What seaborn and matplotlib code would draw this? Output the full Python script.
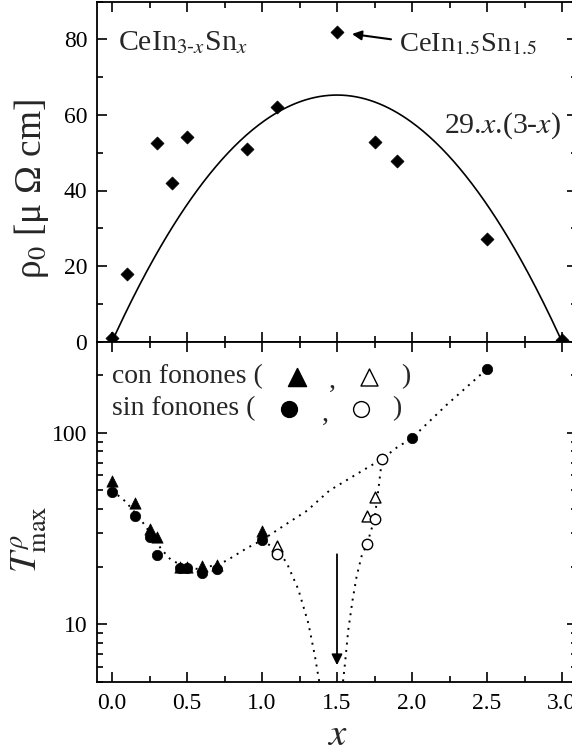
import numpy as np
import matplotlib
matplotlib.use("Agg")
import matplotlib.pyplot as plt
import seaborn as sns
from matplotlib.ticker import MultipleLocator, LogLocator, FuncFormatter, NullFormatter

# Residual resistivity of CeIn(3-x)Sn(x)
rho_x = [0.0, 0.1, 0.3, 0.4, 0.5, 0.9, 1.1, 1.5, 1.75, 1.9, 2.5, 3.0]
rho_0 = [1.0, 18.0, 52.6, 42.0, 54.2, 51.0, 62.2, 81.8, 52.7, 47.9, 27.3, 0.5]
fit_coef = 29.0

# Temperature of the resistivity maximum, with phonon contribution
con_x = [0.0, 0.15, 0.25, 0.3, 0.45, 0.5, 0.6, 0.7, 1.0]
con_T = [56.3, 43.0, 31.6, 28.4, 19.9, 20.0, 20.1, 20.4, 30.7]
con_open_x = [1.1, 1.7, 1.75]
con_open_T = [25.6, 36.9, 46.1]

# ... and without phonon contribution
sin_x = [0.0, 0.15, 0.25, 0.3, 0.45, 0.5, 0.6, 0.7, 1.0, 2.0, 2.5]
sin_T = [48.9, 36.6, 28.4, 22.9, 19.7, 19.7, 18.6, 19.5, 27.5, 94.0, 216.0]
sin_open_x = [1.1, 1.7, 1.75, 1.8]
sin_open_T = [23.2, 26.2, 35.4, 73.0]

# Guide-to-the-eye curves
guide_low_x = [0.0, 0.09, 0.19, 0.33, 0.39, 0.5, 0.6, 0.76, 0.9, 1.0]
guide_low_T = [50.0, 43.8, 35.4, 24.6, 21.8, 19.6, 19.4, 21.4, 25.0, 27.5]
guide_up_x = [1.0, 1.16, 1.3, 1.45, 1.69, 1.8, 1.9, 2.0, 2.23, 2.5]
guide_up_T = [27.5, 33.3, 39.2, 50.0, 64.9, 73.0, 84.0, 94.0, 140.0, 216.0]
guide_down_x = [1.0, 1.1, 1.164, 1.242, 1.309, 1.353, 1.376, 1.39]
guide_down_T = [27.5, 24.4, 21.0, 15.2, 10.1, 6.8, 5.3, 4.6]
guide_rise_x = [1.535, 1.553, 1.575, 1.604, 1.631, 1.664, 1.7, 1.75, 1.775, 1.8]
guide_rise_T = [4.6, 6.2, 9.3, 13.4, 17.8, 22.7, 26.2, 35.4, 50.0, 73.0]

x_ticks = [0.0, 0.5, 1.0, 1.5, 2.0, 2.5, 3.0]
x_ticklabels = ["0.0", "0.5", "1.0", "1.5", "2.0", "2.5", "3.0"]
rho_ticks = [0, 20, 40, 60, 80]

sns.set_style("ticks")
plt.rcParams["font.family"] = ["Liberation Serif", "DejaVu Serif"]
plt.rcParams["mathtext.fontset"] = "stix"
plt.rcParams["axes.linewidth"] = 1.3

W, H = 572, 756
fig = plt.figure(figsize=(W / 100, H / 100), dpi=100)
left, width = 97 / W, 480 / W
ax1 = fig.add_axes([left, (H - 341.7) / H, width, 340.2 / H])
ax2 = fig.add_axes([left, (H - 681.7) / H, width, 340.0 / H])

for ax in (ax1, ax2):
    ax.tick_params(which="both", direction="in", top=True, right=True,
                   width=1.2, labelsize=17, colors="black")
    ax.tick_params(which="major", length=7.5)
    ax.tick_params(which="minor", length=4)
    ax.tick_params(axis="y", which="major", pad=7)
    ax.tick_params(axis="x", which="major", pad=8)
    ax.set_xlim(-0.1, 3.1)
    ax.xaxis.set_major_locator(MultipleLocator(0.5))
    ax.xaxis.set_minor_locator(MultipleLocator(0.25))
    for s in ax.spines.values():
        s.set_linewidth(1.3)
        s.set_color("black")

# ---- upper panel: rho_0 ----
ax1.set_ylim(0, 90)
ax1.set_yticks(rho_ticks)
ax1.yaxis.set_minor_locator(MultipleLocator(10))
ax1.tick_params(axis="x", labelbottom=False)

xf = np.linspace(-0.02, 3.02, 300)
sns.lineplot(x=xf, y=fit_coef * xf * (3 - xf), ax=ax1, color="black",
             lw=1.2, clip_on=False, sort=False, estimator=None)
sns.scatterplot(x=rho_x, y=rho_0, ax=ax1, marker="D", s=44, color="black",
                edgecolor="black", linewidth=0.5, zorder=5)

ax1.set_ylabel("ρ$_0$ [μ Ω cm]", fontsize=27)
ax1.yaxis.set_label_coords(-0.095, 0.45)

ax1.text(0.04, 77.2, r"CeIn$_{3\text{-}x}$Sn$_{x}$", fontsize=21.5,
         ha="left", va="baseline")
ax1.text(1.913, 76.7, r"CeIn$_{1.5}$Sn$_{1.5}$", fontsize=20.5,
         ha="left", va="baseline")
ax1.annotate("", xy=(1.6, 81.4), xytext=(1.86, 80.0),
             arrowprops=dict(arrowstyle="-|>", color="black", lw=1.5,
                             mutation_scale=14, shrinkA=0, shrinkB=0))
ax1.text(2.99, 55.2, r"29.$x$.(3-$x$)", fontsize=21.5, ha="right",
         va="baseline")

# ---- lower panel: T_max ----
ax2.set_yscale("log")
ax2.set_ylim(5, 300)
ax2.yaxis.set_major_locator(LogLocator(base=10, numticks=10))
ax2.yaxis.set_minor_locator(LogLocator(base=10, subs=np.arange(2, 10), numticks=20))
ax2.yaxis.set_major_formatter(FuncFormatter(lambda v, p: f"{v:g}"))
ax2.yaxis.set_minor_formatter(NullFormatter())
ax2.set_xticks(x_ticks)
ax2.set_xticklabels(x_ticklabels)

dot = dict(color="black", lw=1.4, linestyle=(0, (1, 2.8)), sort=False,
           estimator=None, ax=ax2)
for gx, gy in ((guide_low_x, guide_low_T), (guide_up_x, guide_up_T),
               (guide_down_x, guide_down_T), (guide_rise_x, guide_rise_T)):
    sns.lineplot(x=gx, y=gy, **dot)

sns.scatterplot(x=con_open_x, y=con_open_T, ax=ax2, marker="^", s=62,
                color="white", edgecolor="black", linewidth=1.0, zorder=4)
sns.scatterplot(x=sin_open_x, y=sin_open_T, ax=ax2, marker="o", s=56,
                color="white", edgecolor="black", linewidth=1.0, zorder=4)
sns.scatterplot(x=con_x, y=con_T, ax=ax2, marker="^", s=66, color="black",
                edgecolor="black", linewidth=0.5, zorder=5)
sns.scatterplot(x=sin_x, y=sin_T, ax=ax2, marker="o", s=56, color="black",
                edgecolor="black", linewidth=0.5, zorder=5)

ax2.annotate("", xy=(1.5, 6.1), xytext=(1.5, 23.2),
             arrowprops=dict(arrowstyle="-|>", color="black", lw=1.3,
                             mutation_scale=16, shrinkA=0, shrinkB=0))

ax2.set_ylabel(r"$T^{\rho}_{\mathrm{max}}$", fontsize=27)
ax2.yaxis.set_label_coords(-0.1, 0.42)
ax2.set_xlabel(r"$x$", fontsize=28)
ax2.xaxis.label.set_va("center")
ax2.xaxis.set_label_coords(0.5, -0.157)

# legend rows
ta = ax2.transAxes
ax2.text(0.031, 0.897, "con fonones (", transform=ta, fontsize=20,
         ha="left", va="center")
ax2.text(0.031, 0.802, "sin fonones (", transform=ta, fontsize=20,
         ha="left", va="center")
ax2.scatter([0.416], [0.897], transform=ta, marker="^", s=170, c="black",
            clip_on=False)
ax2.scatter([0.567], [0.897], transform=ta, marker="^", s=150, c="white",
            edgecolors="black", linewidths=1.0, clip_on=False)
ax2.scatter([0.401], [0.802], transform=ta, marker="o", s=130, c="black",
            clip_on=False)
ax2.scatter([0.55], [0.802], transform=ta, marker="o", s=130, c="white",
            edgecolors="black", linewidths=1.0, clip_on=False)
ax2.text(0.490, 0.882, ",", transform=ta, fontsize=20, ha="center", va="center")
ax2.text(0.475, 0.787, ",", transform=ta, fontsize=20, ha="center", va="center")
ax2.text(0.644, 0.897, ")", transform=ta, fontsize=20, ha="center", va="center")
ax2.text(0.624, 0.802, ")", transform=ta, fontsize=20, ha="center", va="center")

fig.savefig("out.png", dpi=100)
